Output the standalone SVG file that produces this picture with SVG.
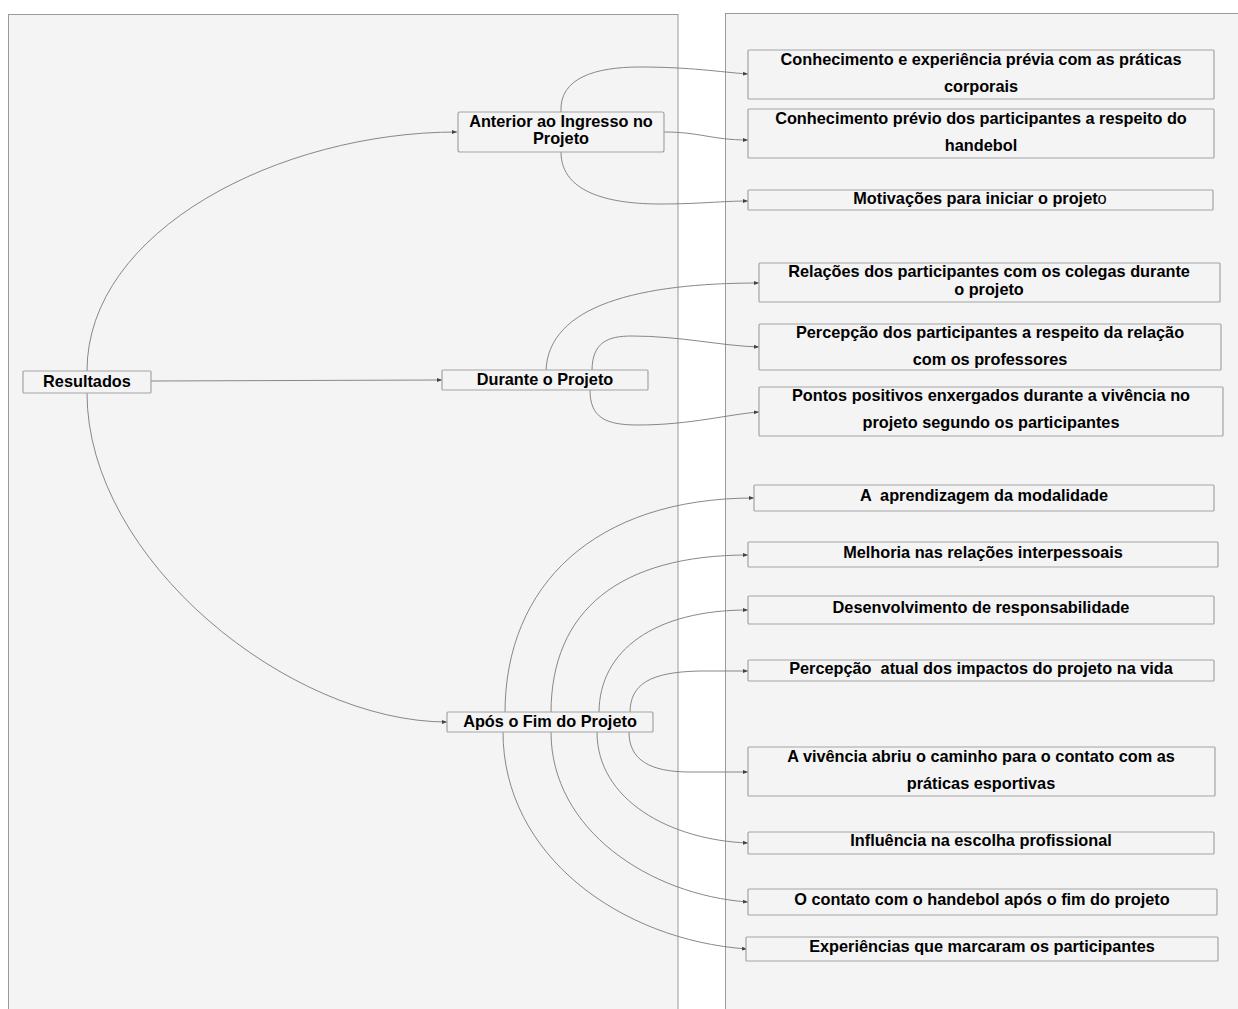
<svg xmlns="http://www.w3.org/2000/svg" width="1238" height="1009" viewBox="0 0 1238 1009">
<defs>
<marker id="ah" markerWidth="6" markerHeight="6" refX="5" refY="3" orient="auto" markerUnits="userSpaceOnUse">
<path d="M0,1 L5,3 L0,5 Z" fill="#444"/>
</marker>
</defs>
<style>
.panel{fill:#f4f4f4;stroke:#9a9a9a;stroke-width:1}
.box{fill:#f4f4f4;stroke:#a3a3a3;stroke-width:1.2}
.t{font-family:"Liberation Sans",Arial,sans-serif;font-size:16.3px;font-weight:bold;fill:#000;text-anchor:middle}
.c{fill:none;stroke:#7a7a7a;stroke-width:0.9;marker-end:url(#ah)}
</style>
<rect width="1238" height="1009" fill="#ffffff"/>
<rect class="panel" x="8.5" y="14.5" width="669.5" height="1010"/>
<rect class="panel" x="725.5" y="13.5" width="520" height="1010"/>

<g id="connectors">
<path class="c" d="M87,371 C87,230 280,132 457,132"/>
<path class="c" d="M151,381 L442,380"/>
<path class="c" d="M87,393 C87,560 290,722 447,722"/>
<path class="c" d="M561,112 C559,78 595,67 640,67 C690,67 720,72 748,74"/>
<path class="c" d="M664,132 C700,132 712,140 748,140"/>
<path class="c" d="M561,152 C561,195 615,204 660,204 C700,204 722,201 748,201"/>
<path class="c" d="M546,371 C548,305 640,283 759,283"/>
<path class="c" d="M592,371 C592,342 608,336 632,336 C680,336 722,346 759,347"/>
<path class="c" d="M590,390 C590,418 606,425 638,425 C690,425 730,414 759,412"/>
<path class="c" d="M505,713 C505,585 595,498 754,498"/>
<path class="c" d="M551,713 C551,610 620,555 748,555"/>
<path class="c" d="M599,713 C599,650 655,610 748,610"/>
<path class="c" d="M630,713 C630,684 650,672 700,671 L748,671"/>
<path class="c" d="M629,732 C629,760 650,772 690,772 L748,772"/>
<path class="c" d="M597,732 C597,800 670,840 748,843"/>
<path class="c" d="M551,732 C551,830 650,895 748,902"/>
<path class="c" d="M503,732 C503,855 620,940 747,949"/>
</g>

<g id="n-resultados"><rect class="box" x="23" y="371" width="128" height="22" rx="1"/><text class="t" x="87" y="387">Resultados</text></g>
<g id="n-anterior"><rect class="box" x="458" y="112" width="206" height="40" rx="2"/><text class="t" x="561" y="127">Anterior ao Ingresso no</text><text class="t" x="561" y="144">Projeto</text></g>
<g id="n-durante"><rect class="box" x="442" y="370" width="206" height="20" rx="1"/><text class="t" x="545" y="385">Durante o Projeto</text></g>
<g id="n-apos"><rect class="box" x="447" y="712" width="206" height="20" rx="1"/><text class="t" x="550" y="727">Após o Fim do Projeto</text></g>

<g id="r1"><rect class="box" x="748" y="50" width="466" height="49" rx="1"/><text class="t" x="981" y="65">Conhecimento e experiência prévia com as práticas</text><text class="t" x="981" y="92">corporais</text></g>
<g id="r2"><rect class="box" x="748" y="109" width="466" height="49" rx="1"/><text class="t" x="981" y="124">Conhecimento prévio dos participantes a respeito do</text><text class="t" x="981" y="151">handebol</text></g>
<g id="r3"><rect class="box" x="748" y="190" width="465" height="20" rx="1"/><text class="t" x="980" y="204">Motivações para iniciar o projet<tspan font-weight="normal">o</tspan></text></g>
<g id="r4"><rect class="box" x="759" y="263" width="461" height="39" rx="1"/><text class="t" x="989" y="277">Relações dos participantes com os colegas durante</text><text class="t" x="989" y="295">o projeto</text></g>
<g id="r5"><rect class="box" x="759" y="324" width="462" height="46" rx="1"/><text class="t" x="990" y="338">Percepção dos participantes a respeito da relação</text><text class="t" x="990" y="365">com os professores</text></g>
<g id="r6"><rect class="box" x="759" y="387" width="464" height="49" rx="1"/><text class="t" x="991" y="401">Pontos positivos enxergados durante a vivência no</text><text class="t" x="991" y="428">projeto segundo os participantes</text></g>
<g id="r7"><rect class="box" x="754" y="485" width="460" height="26" rx="1"/><text class="t" x="984" y="501" xml:space="preserve">A  aprendizagem da modalidade</text></g>
<g id="r8"><rect class="box" x="748" y="542" width="470" height="25" rx="1"/><text class="t" x="983" y="558">Melhoria nas relações interpessoais</text></g>
<g id="r9"><rect class="box" x="748" y="596" width="466" height="28" rx="1"/><text class="t" x="981" y="613">Desenvolvimento de responsabilidade</text></g>
<g id="r10"><rect class="box" x="748" y="660" width="466" height="21" rx="1"/><text class="t" x="981" y="674" xml:space="preserve">Percepção  atual dos impactos do projeto na vida</text></g>
<g id="r11"><rect class="box" x="748" y="747" width="467" height="49" rx="1"/><text class="t" x="981" y="762">A vivência abriu o caminho para o contato com as</text><text class="t" x="981" y="789">práticas esportivas</text></g>
<g id="r12"><rect class="box" x="748" y="832" width="466" height="22" rx="1"/><text class="t" x="981" y="846">Influência na escolha profissional</text></g>
<g id="r13"><rect class="box" x="748" y="889" width="469" height="26" rx="1"/><text class="t" x="982" y="905">O contato com o handebol após o fim do projeto</text></g>
<g id="r14"><rect class="box" x="746" y="937" width="472" height="24" rx="1"/><text class="t" x="982" y="952">Experiências que marcaram os participantes</text></g>
</svg>
